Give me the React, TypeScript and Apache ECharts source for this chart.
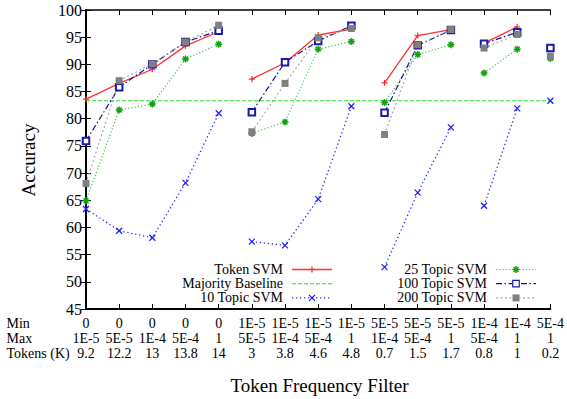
import { useEffect, useRef } from 'react';
import * as echarts from 'echarts';

const minLabels = ['0', '0', '0', '0', '0', '1E-5', '1E-5', '1E-5', '1E-5', '5E-5', '5E-5', '5E-5', '1E-4', '1E-4', '5E-4'];
const maxLabels = ['1E-5', '5E-5', '1E-4', '5E-4', '1', '5E-5', '1E-4', '5E-4', '1', '1E-4', '5E-4', '1', '5E-4', '1', '1'];
const tokenLabels = ['9.2', '12.2', '13', '13.8', '14', '3', '3.8', '4.6', '4.8', '0.7', '1.5', '1.7', '0.8', '1', '0.2'];
const rowTitles = ['Min', 'Max', 'Tokens (K)'];

const tokenSvm = [83.6, 86.5, 89.1, 93.4, 96.0, 87.3, 90.3, 95.4, 96.5, 86.6, 95.3, 96.4, 93.9, 96.9, null];
const majorityBaseline = 83.3;
const topic10 = [63.4, 59.4, 58.1, 68.2, 81.0, 57.4, 56.7, 65.2, 82.3, 52.7, 66.4, 78.4, 64.0, 81.9, 83.3];
const topic25 = [64.9, 81.6, 82.7, 91.0, 93.7, 77.3, 79.4, 92.8, 94.2, 83.0, 91.8, 93.6, 88.4, 92.8, 91.1];
const topic100 = [75.9, 85.8, 90.0, 94.1, 96.2, 81.2, 90.4, 94.3, 97.1, 81.1, 93.5, 96.3, 93.8, 95.9, 93.0];
const topic200 = [68.1, 87.0, 90.1, 94.1, 97.2, 77.6, 86.5, 94.9, 96.6, 77.1, 93.6, 96.4, 93.0, 95.5, 91.5];

const FONT = "'Liberation Serif', 'Times New Roman', serif";

type Sty = {
  name: string;
  color: string;
  lineColor: string;
  dash: number[] | 'solid';
  lineWidth: number;
  marker: 'plus' | 'cross' | 'star' | 'box' | 'fbox' | 'none';
};

const styles: Sty[] = [
  { name: 'Token SVM', color: '#ff2a2a', lineColor: '#ff3030', dash: 'solid', lineWidth: 1.3, marker: 'plus' },
  { name: 'Majority Baseline', color: '#22e022', lineColor: '#22e022', dash: [4, 2], lineWidth: 1.1, marker: 'none' },
  { name: '10 Topic SVM', color: '#1a1aff', lineColor: '#2a2aff', dash: [1.3, 2.7], lineWidth: 1.3, marker: 'cross' },
  { name: '25 Topic SVM', color: '#13a013', lineColor: '#55c455', dash: [1.3, 2], lineWidth: 1.2, marker: 'star' },
  { name: '100 Topic SVM', color: '#1a1ab0', lineColor: '#141490', dash: [6, 2.5, 1.5, 2.5], lineWidth: 1.2, marker: 'box' },
  { name: '200 Topic SVM', color: '#808080', lineColor: '#a8a8a8', dash: [2, 2.5], lineWidth: 1.2, marker: 'fbox' },
];

const symbolPaths: Record<string, string> = {
  plus: 'path://M0,5L10,5M5,0L5,10',
  cross: 'path://M0,0L10,10M10,0L0,10',
  star: 'path://M0,5L10,5M5,0L5,10M1.5,1.5L8.5,8.5M8.5,1.5L1.5,8.5',
};

function buildData(values: (number | null)[]) {
  const out: any[] = [];
  values.forEach((v, i) => {
    if (i > 0 && minLabels[i] !== minLabels[i - 1]) out.push([i - 0.5, '-']);
    out.push([i, v === null ? '-' : v]);
  });
  return out;
}

function makeSeries(s: Sty, values: (number | null)[]) {
  let symbol: string = 'none';
  let symbolSize = 6;
  let itemStyle: any = { color: s.color, borderColor: s.color, borderWidth: 1.2 };
  if (s.marker === 'plus' || s.marker === 'cross') {
    symbol = symbolPaths[s.marker];
    symbolSize = 6;
  } else if (s.marker === 'star') {
    symbol = symbolPaths.star;
    symbolSize = 7;
    itemStyle = { color: s.color, borderColor: s.color, borderWidth: 1.5 };
  } else if (s.marker === 'box') {
    symbol = 'emptyRect';
    symbolSize = 6.5;
    itemStyle = { color: s.color, borderColor: s.color, borderWidth: 1.2 };
  } else if (s.marker === 'fbox') {
    symbol = 'rect';
    symbolSize = 7;
    itemStyle = { color: s.color, borderWidth: 0 };
  }
  return {
    name: s.name,
    type: 'line',
    data: buildData(values),
    connectNulls: false,
    symbol,
    symbolSize,
    symbolKeepAspect: true,
    showSymbol: true,
    itemStyle,
    lineStyle: { color: s.lineColor, width: s.lineWidth, type: s.dash },
    z: 3,
  };
}

function legendGraphics() {
  const els: any[] = [];
  const rows = [269.5, 283.7, 297.9];
  styles.forEach((s, idx) => {
    const col = idx < 3 ? 0 : 1;
    const row = idx % 3;
    const textRight = col === 0 ? 283 : 487;
    const lx0 = col === 0 ? 292 : 496;
    const lx1 = col === 0 ? 332 : 536;
    const y = rows[row];
    const mx = (lx0 + lx1) / 2;
    els.push({
      type: 'text',
      x: textRight,
      y,
      style: { text: s.name, font: `14px ${FONT}`, fill: '#000', align: 'right', verticalAlign: 'middle' },
    });
    els.push({
      type: 'line',
      shape: { x1: lx0, y1: y, x2: lx1, y2: y },
      style: { stroke: s.lineColor, lineWidth: s.lineWidth, lineDash: s.dash === 'solid' ? null : s.dash },
    });
    const r = 3;
    if (s.marker === 'plus') {
      els.push({ type: 'line', shape: { x1: mx - r, y1: y, x2: mx + r, y2: y }, style: { stroke: s.color, lineWidth: 1.2 } });
      els.push({ type: 'line', shape: { x1: mx, y1: y - r, x2: mx, y2: y + r }, style: { stroke: s.color, lineWidth: 1.2 } });
    } else if (s.marker === 'cross') {
      els.push({ type: 'line', shape: { x1: mx - r, y1: y - r, x2: mx + r, y2: y + r }, style: { stroke: s.color, lineWidth: 1.2 } });
      els.push({ type: 'line', shape: { x1: mx - r, y1: y + r, x2: mx + r, y2: y - r }, style: { stroke: s.color, lineWidth: 1.2 } });
    } else if (s.marker === 'star') {
      els.push({ type: 'line', shape: { x1: mx - 3.5, y1: y, x2: mx + 3.5, y2: y }, style: { stroke: s.color, lineWidth: 1.5 } });
      els.push({ type: 'line', shape: { x1: mx, y1: y - 3.5, x2: mx, y2: y + 3.5 }, style: { stroke: s.color, lineWidth: 1.5 } });
      els.push({ type: 'line', shape: { x1: mx - 2.5, y1: y - 2.5, x2: mx + 2.5, y2: y + 2.5 }, style: { stroke: s.color, lineWidth: 1.5 } });
      els.push({ type: 'line', shape: { x1: mx - 2.5, y1: y + 2.5, x2: mx + 2.5, y2: y - 2.5 }, style: { stroke: s.color, lineWidth: 1.5 } });
    } else if (s.marker === 'box') {
      els.push({ type: 'rect', shape: { x: mx - 3.25, y: y - 3.25, width: 6.5, height: 6.5 }, style: { fill: '#fff', stroke: s.color, lineWidth: 1.2 } });
    } else if (s.marker === 'fbox') {
      els.push({ type: 'rect', shape: { x: mx - 3.5, y: y - 3.5, width: 7, height: 7 }, style: { fill: s.color } });
    }
  });
  return els;
}

export default function App() {
  const ref = useRef<HTMLDivElement>(null);
  useEffect(() => {
    if (!ref.current) return;
    const chart = echarts.init(ref.current, null, { renderer: 'svg' });
    const valueSets = [tokenSvm, null, topic10, topic25, topic100, topic200];
    const series: any[] = [];
    styles.forEach((s, i) => {
      if (i === 1) {
        series.push({
          name: s.name,
          type: 'line',
          data: [[0, majorityBaseline], [minLabels.length - 1, majorityBaseline]],
          symbol: 'none',
          lineStyle: { color: s.lineColor, width: s.lineWidth, type: s.dash },
          z: 2,
        });
      } else {
        series.push(makeSeries(s, valueSets[i] as (number | null)[]));
      }
    });
    const axisLine = { show: true, lineStyle: { color: '#000', width: 1.5 } };
    const tick = { show: true, inside: true, length: 5, lineStyle: { color: '#000', width: 1 } };
    chart.setOption({
      animation: false,
      backgroundColor: '#fff',
      grid: { left: 86, right: 14, top: 10, bottom: 90 },
      xAxis: [
        {
          type: 'value',
          min: 0,
          max: minLabels.length - 1,
          interval: 1,
          position: 'bottom',
          axisLine: { show: true, lineStyle: { color: '#000', width: 2 } },
          axisTick: tick,
          splitLine: { show: false },
          axisLabel: {
            margin: 7,
            fontFamily: FONT,
            fontSize: 14,
            lineHeight: 15,
            color: '#000',
            showMinLabel: true,
            showMaxLabel: true,
            formatter: (v: number) => {
              const i = Math.round(v);
              return `${minLabels[i]}\n${maxLabels[i]}\n${tokenLabels[i]}`;
            },
          },
        },
        {
          type: 'value',
          min: 0,
          max: minLabels.length - 1,
          interval: 1,
          position: 'top',
          axisLine,
          axisTick: tick,
          axisLabel: { show: false },
          splitLine: { show: false },
        },
      ],
      yAxis: [
        {
          type: 'value',
          min: 45,
          max: 100,
          interval: 5,
          position: 'left',
          axisLine: { show: true, lineStyle: { color: '#000', width: 2 } },
          axisTick: tick,
          splitLine: { show: false },
          axisLabel: { margin: 4, fontFamily: FONT, fontSize: 16, color: '#000' },
        },
        {
          type: 'value',
          min: 45,
          max: 100,
          interval: 5,
          position: 'right',
          axisLine,
          axisTick: tick,
          axisLabel: { show: false },
          splitLine: { show: false },
        },
      ],
      series,
      graphic: [
        ...rowTitles.map((t, k) => ({
          type: 'text',
          x: 6.5,
          y: 323.3 + k * 15,
          style: { text: t, font: `14px ${FONT}`, fill: '#000', align: 'left', verticalAlign: 'middle' },
        })),
        {
          type: 'text',
          x: 28,
          y: 160,
          rotation: Math.PI / 2,
          style: { text: 'Accuracy', font: `19px ${FONT}`, fill: '#000', align: 'center', verticalAlign: 'middle' },
        },
        {
          type: 'text',
          x: 319.5,
          y: 385,
          style: { text: 'Token Frequency Filter', font: `19px ${FONT}`, fill: '#000', align: 'center', verticalAlign: 'middle' },
        },
        ...legendGraphics(),
      ],
    });
    return () => chart.dispose();
  }, []);
  return <div ref={ref} style={{ position: 'fixed', left: 0, top: 0, width: 567, height: 399, background: '#fff' }} />;
}
